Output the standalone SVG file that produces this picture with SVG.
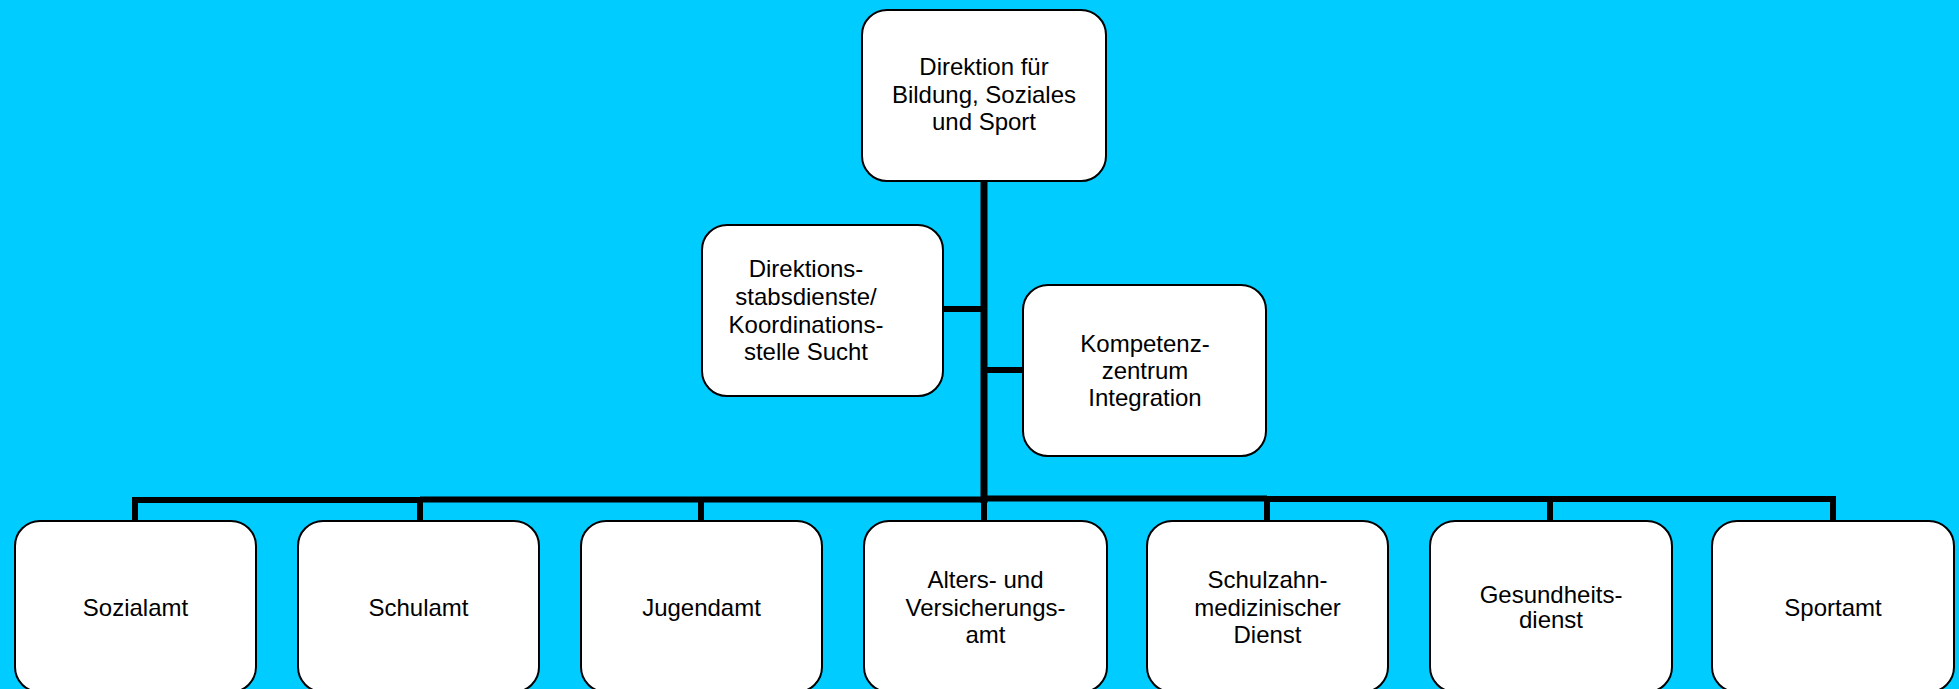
<svg xmlns="http://www.w3.org/2000/svg" width="1959" height="689" viewBox="0 0 1959 689">
<style>
.box{fill:#fff;stroke:#000;stroke-width:2}
.t{font-family:"Liberation Sans",Arial,sans-serif;font-size:24px;fill:#000;text-anchor:middle}
.c{fill:none;stroke:#000;stroke-width:6;stroke-linecap:butt;stroke-linejoin:miter}
</style>
<rect x="0" y="0" width="1959" height="689" fill="#00CCFF"/>
<g id="connectors">
<path class="c" d="M984 181 V503" style="stroke-width:7"/>
<path class="c" d="M943 309 H984"/>
<path class="c" d="M984 370 H1023"/>
<path class="c" d="M135 521 V500 H420"/>
<path class="c" d="M420 499.5 H984"/>
<path class="c" d="M984 498.5 H1267"/>
<path class="c" d="M1267 499 H1833 V521"/>
<path class="c" d="M420 500 V521"/>
<path class="c" d="M701 500 V521"/>
<path class="c" d="M984 500 V521"/>
<path class="c" d="M1267 500 V521"/>
<path class="c" d="M1550 500 V521"/>
</g>
<g id="direktion">
<rect class="box" x="862" y="10" width="244" height="171" rx="25" ry="25"/>
<text class="t" x="984" y="75">Direktion für</text>
<text class="t" x="984" y="103">Bildung, Soziales</text>
<text class="t" x="984" y="130">und Sport</text>
</g>
<g id="stabsdienste">
<rect class="box" x="702" y="225" width="241" height="171" rx="25" ry="25"/>
<text class="t" x="806" y="277">Direktions-</text>
<text class="t" x="806" y="305">stabsdienste/</text>
<text class="t" x="806" y="333">Koordinations-</text>
<text class="t" x="806" y="360">stelle Sucht</text>
</g>
<g id="kompetenzzentrum">
<rect class="box" x="1023" y="285" width="243" height="171" rx="25" ry="25"/>
<text class="t" x="1145" y="352">Kompetenz-</text>
<text class="t" x="1145" y="379">zentrum</text>
<text class="t" x="1145" y="406">Integration</text>
</g>
<g id="sozialamt">
<rect class="box" x="15" y="521" width="241" height="171" rx="25" ry="25"/>
<text class="t" x="135.5" y="616">Sozialamt</text>
</g>
<g id="schulamt">
<rect class="box" x="298" y="521" width="241" height="171" rx="25" ry="25"/>
<text class="t" x="418.5" y="616">Schulamt</text>
</g>
<g id="jugendamt">
<rect class="box" x="581" y="521" width="241" height="171" rx="25" ry="25"/>
<text class="t" x="701.5" y="616">Jugendamt</text>
</g>
<g id="altersamt">
<rect class="box" x="864" y="521" width="243" height="171" rx="25" ry="25"/>
<text class="t" x="985.5" y="588">Alters- und</text>
<text class="t" x="985.5" y="616">Versicherungs-</text>
<text class="t" x="985.5" y="643">amt</text>
</g>
<g id="schulzahn">
<rect class="box" x="1147" y="521" width="241" height="171" rx="25" ry="25"/>
<text class="t" x="1267.5" y="588">Schulzahn-</text>
<text class="t" x="1267.5" y="616">medizinischer</text>
<text class="t" x="1267.5" y="643">Dienst</text>
</g>
<g id="gesundheitsdienst">
<rect class="box" x="1430" y="521" width="242" height="171" rx="25" ry="25"/>
<text class="t" x="1551" y="603">Gesundheits-</text>
<text class="t" x="1551" y="628">dienst</text>
</g>
<g id="sportamt">
<rect class="box" x="1712" y="521" width="242" height="171" rx="25" ry="25"/>
<text class="t" x="1833" y="616">Sportamt</text>
</g>
</svg>
